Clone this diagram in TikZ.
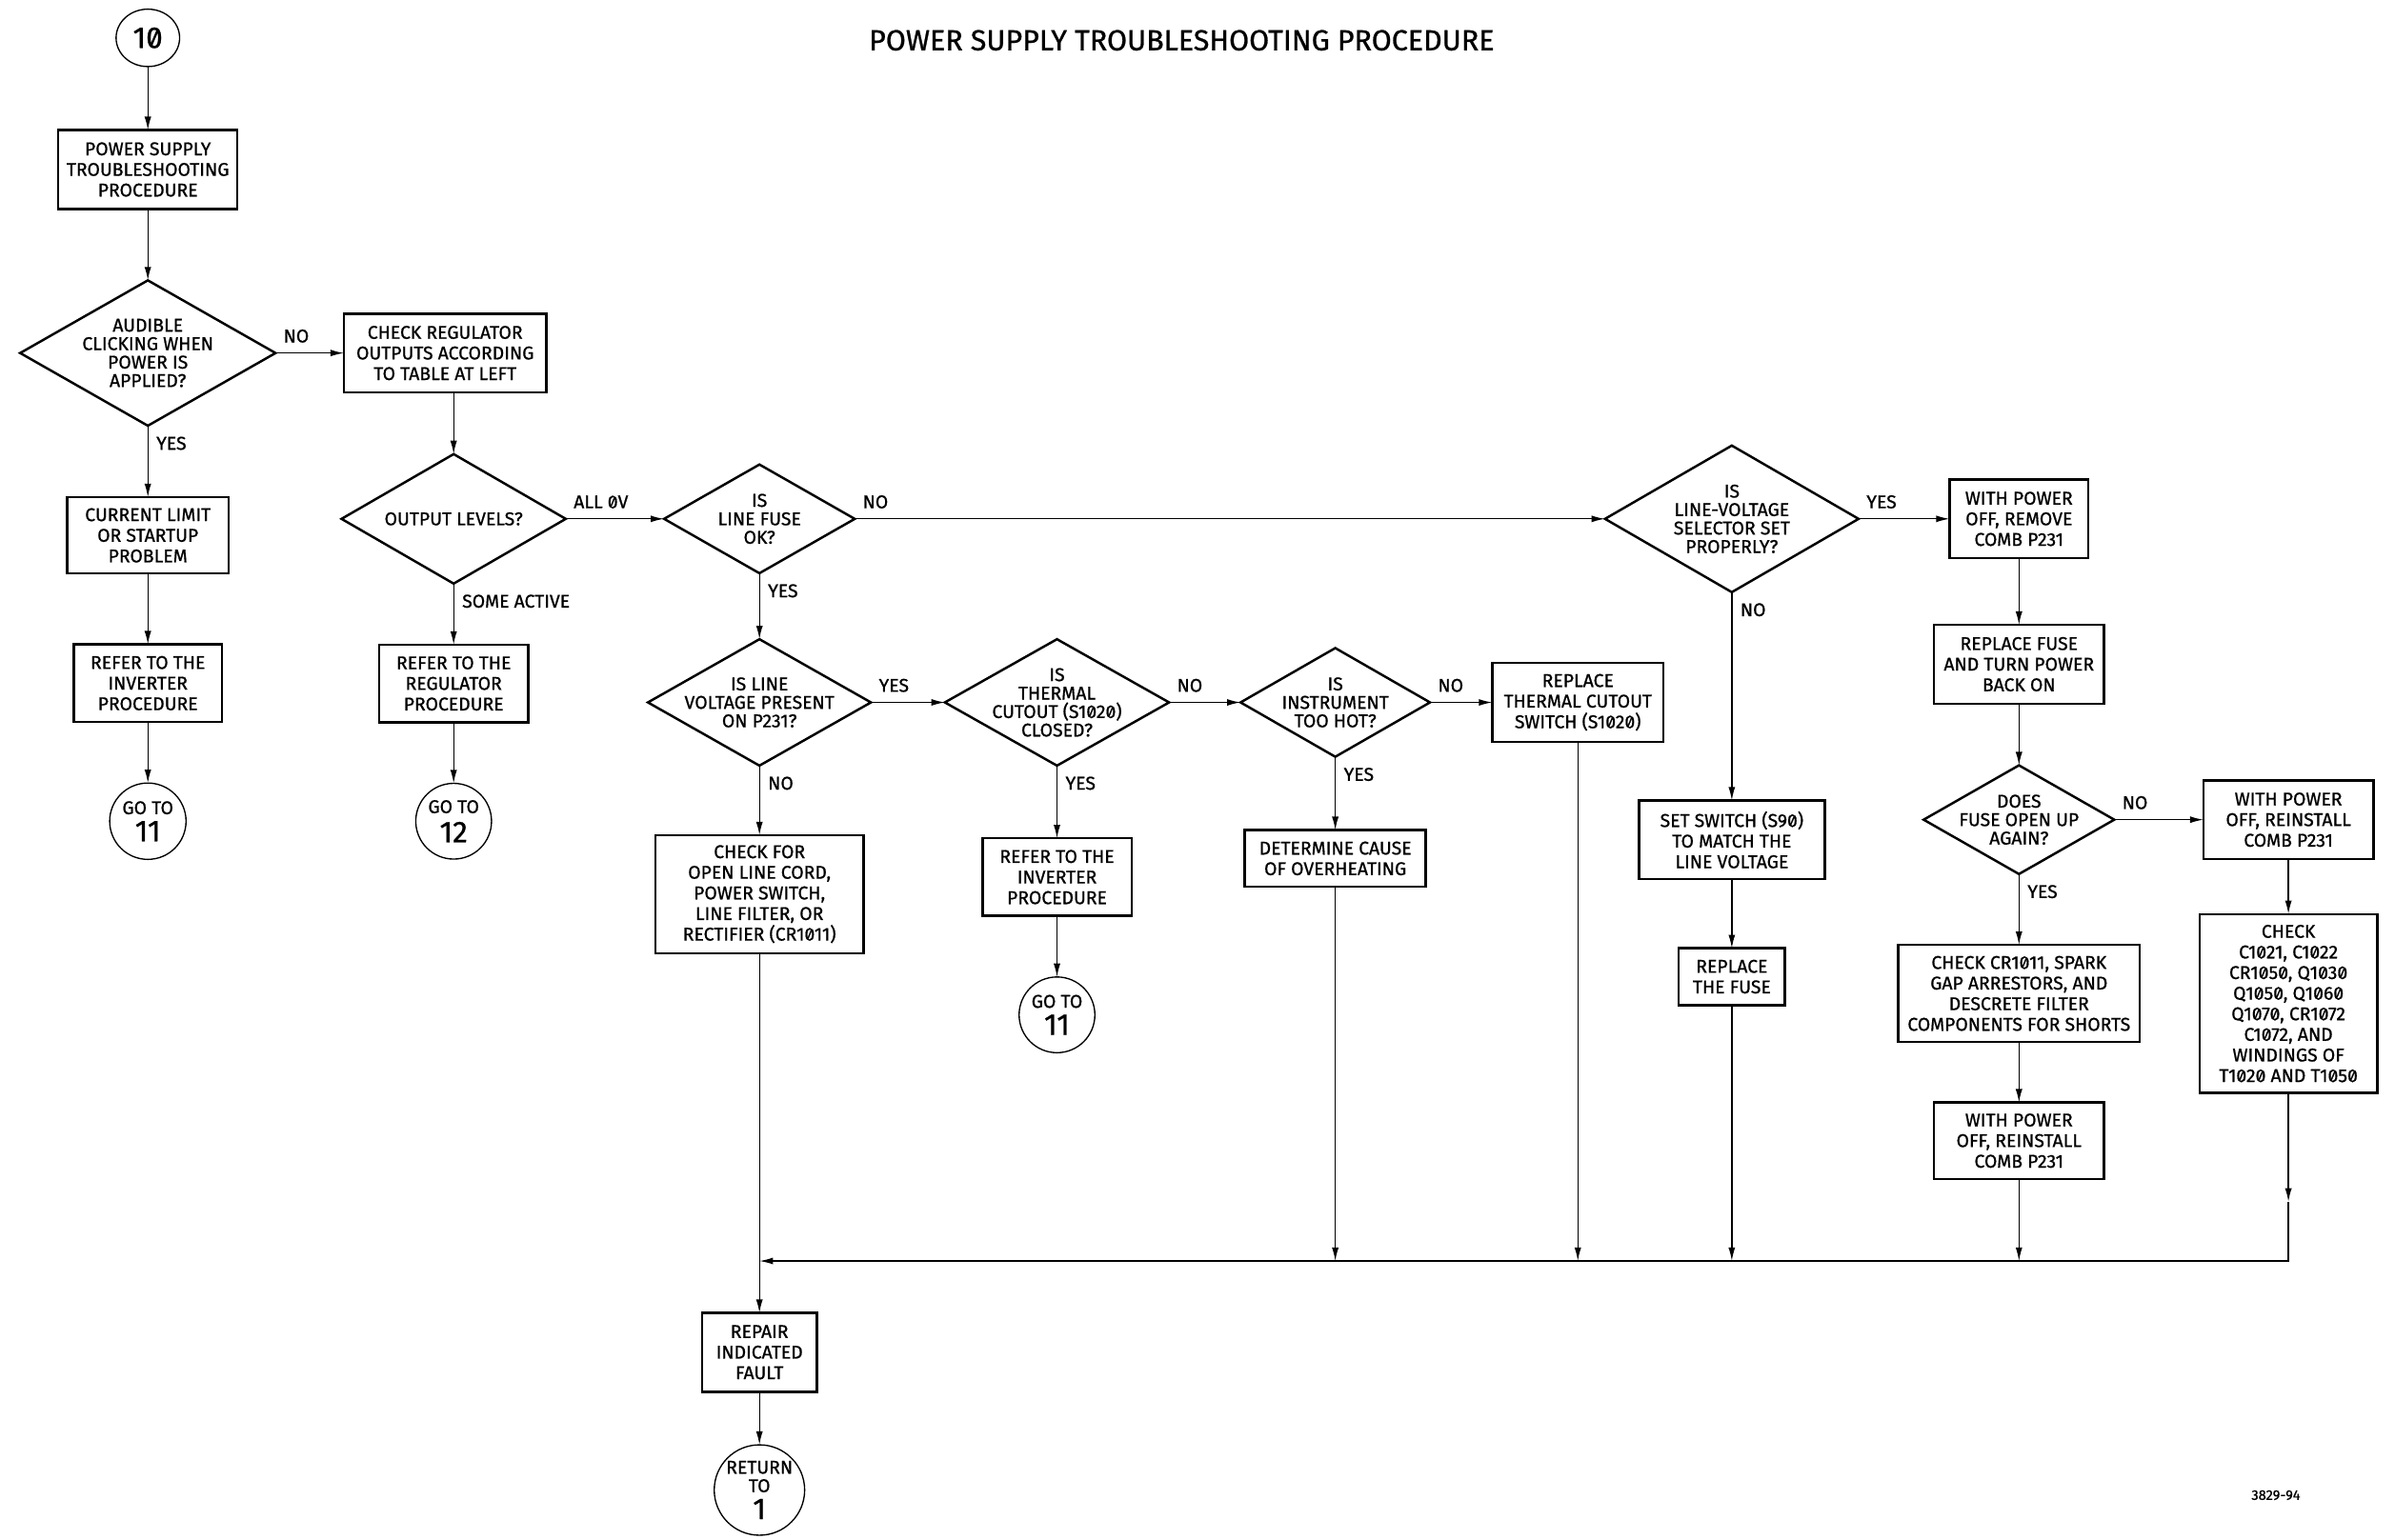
\documentclass[tikz,border=0pt]{standalone}
\usepackage{fontspec}
\setmainfont{Fira Sans}[Numbers=SlashedZero, FakeBold=0.8]
\usepackage{tikz}
\usetikzlibrary{arrows.meta, positioning, shapes.geometric}

\newcommand{\bignum}[1]{{\fontsize{14}{14}\selectfont #1}}

\begin{document}
\begin{tikzpicture}[
    font=\fontsize{8.6}{9.6}\selectfont,
    box/.style={draw, line width=1.1pt, align=center, inner sep=1pt, outer sep=0pt},
    dec/.style={draw, diamond, line width=1.1pt, inner sep=0pt, outer sep=0pt},
    qtxt/.style={align=center, inner sep=0pt, font=\fontsize{8.6}{8.6}\selectfont},
    conn/.style={draw, ellipse, line width=0.6pt, align=center, inner sep=-1pt, outer sep=0pt},
    arr/.style={-{Latex[length=2.2mm, width=1.1mm]}, line width=0.6pt},
    lbl/.style={inner sep=0pt},
    hlbl/.style={lbl, at start, above right=1.6mm and 1.2mm},
    vlbl/.style={lbl, at start, below right=1.7mm and 1.3mm},
]
\useasboundingbox (0,0) rectangle (392mm,-252mm);

\node (title) at (193.4mm,-6.6mm) [font=\fontsize{13.5}{14}\selectfont] {POWER SUPPLY TROUBLESHOOTING PROCEDURE};
\node (fignum) at (372.5mm,-244.8mm) [font=\fontsize{6.5}{7}\selectfont] {3829-94};

% left column
\node[conn, minimum width=10.4mm, minimum height=9.4mm] (c10) at (24.2mm,-6.2mm) {\bignum{10}};
\node[box, below=10.4mm of c10, minimum width=29.3mm, minimum height=12.9mm] (ps) {POWER SUPPLY\\TROUBLESHOOTING\\PROCEDURE};
\node[dec, below=11.7mm of ps, minimum width=41.8mm, minimum height=23.8mm,
      label={[qtxt]center:AUDIBLE\\CLICKING WHEN\\POWER IS\\APPLIED?}] (click) {};
\node[box, below=11.7mm of click, minimum width=26.4mm, minimum height=12.5mm] (climit) {CURRENT LIMIT\\OR STARTUP\\PROBLEM};
\node[box, below=11.6mm of climit, minimum width=24.3mm, minimum height=12.7mm] (inv1) {REFER TO THE\\INVERTER\\PROCEDURE};
\node[conn, below=10mm of inv1, minimum size=12.5mm] (go11a) {GO TO\\[3pt]\bignum{11}};
\draw[arr] (c10) -- (ps);
\draw[arr] (ps) -- (click);
\draw[arr] (click) -- (climit) node[vlbl] {YES};
\draw[arr] (climit) -- (inv1);
\draw[arr] (inv1) -- (go11a);

% regulator column
\node[box, right=11.2mm of click, minimum width=33.1mm, minimum height=12.9mm] (chkreg) {CHECK REGULATOR\\OUTPUTS ACCORDING\\TO TABLE AT LEFT};
\node[dec, below=10.1mm of chkreg, xshift=1.4mm, minimum width=36.7mm, minimum height=21.2mm,
      label={[qtxt]center:OUTPUT LEVELS?}] (levels) {};
\node[box, below=10mm of levels, minimum width=24.4mm, minimum height=12.7mm] (reg) {REFER TO THE\\REGULATOR\\PROCEDURE};
\node[conn, below=10mm of reg, minimum size=12.4mm] (go12) {GO TO\\[3pt]\bignum{12}};
\draw[arr] (click) -- (chkreg) node[hlbl] {NO};
\draw[arr] (chkreg.south -| levels) -- (levels);
\draw[arr] (levels) -- (reg) node[vlbl] {SOME ACTIVE};
\draw[arr] (reg) -- (go12);

% line fuse
\node[dec, right=16.1mm of levels, minimum width=31.2mm, minimum height=17.8mm,
      label={[qtxt]center:IS\\LINE FUSE\\OK?}] (fuse) {};
\node[dec, below=10.8mm of fuse, minimum width=36.5mm, minimum height=20.7mm,
      label={[qtxt]center:IS LINE\\VOLTAGE PRESENT\\ON P231?}] (linev) {};
\node[box, below=11.4mm of linev, minimum width=34.1mm, minimum height=19.3mm] (chkfor) {CHECK FOR\\OPEN LINE CORD,\\POWER SWITCH,\\LINE FILTER, OR\\RECTIFIER (CR1011)};
\node[box, below=58.9mm of chkfor, minimum width=18.8mm, minimum height=12.9mm] (repair) {REPAIR\\INDICATED\\FAULT};
\node[conn, below=8.7mm of repair, minimum size=14.8mm] (ret1) {RETURN\\[-1pt]TO\\[3pt]\bignum{1}};
\draw[arr] (levels) -- (fuse) node[hlbl] {ALL 0V};
\draw[arr] (fuse) -- (linev) node[vlbl] {YES};
\draw[arr] (linev) -- (chkfor) node[vlbl] {NO};
\draw[arr] (chkfor) -- (repair);
\draw[arr] (repair) -- (ret1);

% thermal cutout row
\node[dec, right=12.1mm of linev, minimum width=36.7mm, minimum height=20.7mm,
      label={[qtxt]center:IS\\THERMAL\\CUTOUT (S1020)\\CLOSED?}] (thermal) {};
\node[box, below=11.9mm of thermal, minimum width=24.4mm, minimum height=12.7mm] (inv2) {REFER TO THE\\INVERTER\\PROCEDURE};
\node[conn, below=10mm of inv2, minimum size=12.4mm] (go11b) {GO TO\\[3pt]\bignum{11}};
\node[dec, right=11.7mm of thermal, minimum width=31mm, minimum height=17.8mm,
      label={[qtxt]center:IS\\INSTRUMENT\\TOO HOT?}] (hot) {};
\node[box, below=12mm of hot, minimum width=29.6mm, minimum height=9.3mm] (cause) {DETERMINE CAUSE\\OF OVERHEATING};
\node[box, right=10.2mm of hot, minimum width=28mm, minimum height=12.9mm] (replth) {REPLACE\\THERMAL CUTOUT\\SWITCH (S1020)};
\draw[arr] (linev) -- (thermal) node[hlbl] {YES};
\draw[arr] (thermal) -- (inv2) node[vlbl] {YES};
\draw[arr] (inv2) -- (go11b);
\draw[arr] (thermal) -- (hot) node[hlbl] {NO};
\draw[arr] (hot) -- (cause) node[vlbl] {YES};
\draw[arr] (hot) -- (replth) node[hlbl] {NO};

% line-voltage selector
\node[dec, right=122.8mm of fuse, minimum width=41.5mm, minimum height=24mm,
      label={[qtxt]center:IS\\LINE-VOLTAGE\\SELECTOR SET\\PROPERLY?}] (selector) {};
\node[box, below=34.1mm of selector, minimum width=30.4mm, minimum height=12.9mm] (setsw) {SET SWITCH (S90)\\TO MATCH THE\\LINE VOLTAGE};
\node[box, below=11.3mm of setsw, minimum width=17.4mm, minimum height=9.3mm] (repfuse) {REPLACE\\THE FUSE};
\draw[arr] (fuse) -- (selector) node[hlbl] {NO};
\draw[arr] (selector) -- (setsw) node[vlbl] {NO};
\draw[arr] (setsw) -- (repfuse);

% fuse replacement
\node[box, right=14.9mm of selector, minimum width=22.7mm, minimum height=12.9mm] (remove) {WITH POWER\\OFF, REMOVE\\COMB P231};
\node[box, below=10.9mm of remove, minimum width=27.8mm, minimum height=12.9mm] (turnon) {REPLACE FUSE\\AND TURN POWER\\BACK ON};
\node[dec, below=10.1mm of turnon, minimum width=31.2mm, minimum height=17.8mm,
      label={[qtxt]center:DOES\\FUSE OPEN UP\\AGAIN?}] (again) {};
\node[box, below=11.6mm of again, minimum width=39.5mm, minimum height=15.9mm] (spark) {CHECK CR1011, SPARK\\GAP ARRESTORS, AND\\DESCRETE FILTER\\COMPONENTS FOR SHORTS};
\node[box, below=9.9mm of spark, minimum width=27.8mm, minimum height=12.5mm] (reinst2) {WITH POWER\\OFF, REINSTALL\\COMB P231};
\node[box, right=14.6mm of again, minimum width=27.8mm, minimum height=12.9mm] (reinst1) {WITH POWER\\OFF, REINSTALL\\COMB P231};
\node[box, below=9mm of reinst1, minimum width=29.1mm, minimum height=29.3mm] (parts) {CHECK\\C1021, C1022\\CR1050, Q1030\\Q1050, Q1060\\Q1070, CR1072\\C1072, AND\\WINDINGS OF\\T1020 AND T1050};
\draw[arr] (selector) -- (remove) node[hlbl] {YES};
\draw[arr] (remove) -- (turnon);
\draw[arr] (turnon) -- (again);
\draw[arr] (again) -- (spark) node[vlbl] {YES};
\draw[arr] (spark) -- (reinst2);
\draw[arr] (again) -- (reinst1) node[hlbl] {NO};
\draw[arr] (reinst1) -- (parts);

% return bus
\coordinate[below=50.4mm of chkfor.south] (join);
\coordinate[below=17.8mm of parts.south] (partsarr);
\draw[arr] (cause) -- (cause |- join);
\draw[arr] (replth) -- (replth |- join);
\draw[arr] (repfuse) -- (repfuse |- join);
\draw[arr] (reinst2) -- (reinst2 |- join);
\draw[arr] (parts) -- (partsarr);
\draw[arr] (partsarr) -- (partsarr |- join) -- (join);
\end{tikzpicture}
\end{document}
